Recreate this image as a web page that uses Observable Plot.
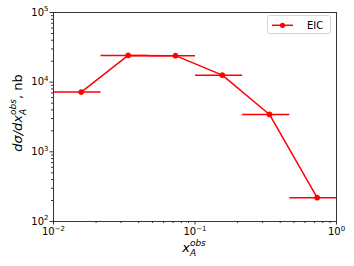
<!DOCTYPE html>
<html>
<head>
<meta charset="utf-8">
<script src="https://cdn.jsdelivr.net/npm/d3@7"></script>
<script src="https://cdn.jsdelivr.net/npm/@observablehq/plot@0.6"></script>
<style>
  body { margin: 0; background: #fff; }
  #wrap { position: relative; width: 354px; height: 266px; font-family: "DejaVu Sans", sans-serif; color: #000; }
  .lab { position: absolute; white-space: nowrap; font-size: 13px; line-height: 1; }
  .it { font-style: italic; }
  .ss { display: inline-block; vertical-align: -0.42em; font-size: 9px; line-height: 1.12; text-align: left; font-style: italic; }
  .ss span { display: block; }
  #legend { position: absolute; left: 267px; top: 15px; width: 64px; height: 19px; border: 1px solid #d4d4d4; border-radius: 3px; background: rgba(255,255,255,0.8); box-sizing: border-box; }
  #legend svg { position: absolute; left: 3px; top: 0; }
  #legend .t { position: absolute; left: 39px; top: 3.5px; font-size: 10px; }
</style>
</head>
<body>
<div id="wrap"></div>
<script>
// Data
const seriesName = "EIC";
const xCenter = [0.0157, 0.0337, 0.0728, 0.156, 0.336, 0.73];
const xLow    = [0.01, 0.0215, 0.0464, 0.1, 0.2154, 0.4642];
const xHigh   = [0.0215, 0.0464, 0.1, 0.2154, 0.4642, 1.0];
const yValue  = [7200, 24200, 24000, 12600, 3440, 220];

// Axis ticks and labels (base^exponent)
const xMajor = [0.01, 0.1, 1];
const xMajorLabels = ["10^\u22122", "10^\u22121", "10^0"];
const yMajor = [100, 1000, 10000, 100000];
const yMajorLabels = ["10^2", "10^3", "10^4", "10^5"];
const xMinor = [];
for (const d of [0.01, 0.1]) for (let k = 2; k <= 9; k++) xMinor.push(k * d);
const yMinor = [];
for (const d of [100, 1000, 10000]) for (let k = 2; k <= 9; k++) yMinor.push(k * d);

const data = xCenter.map((x, i) => ({x, lo: xLow[i], hi: xHigh[i], y: yValue[i]}));
const red = "#ff0000";

const chart = Plot.plot({
  width: 354,
  height: 266,
  marginLeft: 53,
  marginRight: 18,
  marginTop: 12,
  marginBottom: 45,
  style: {fontFamily: "DejaVu Sans, sans-serif", fontSize: "10px", color: "#000", background: "transparent"},
  x: {type: "log", domain: [0.01, 1]},
  y: {type: "log", domain: [100, 100000]},
  marks: [
    Plot.axisX({ticks: xMinor, tickSize: 2, text: null, label: null, strokeWidth: 0.8}),
    Plot.axisX({ticks: xMajor, tickSize: 3.5, tickPadding: 3, label: null, strokeWidth: 0.8,
      tickFormat: (d) => xMajorLabels[xMajor.indexOf(d)], fontSize: 10}),
    Plot.axisY({ticks: yMinor, tickSize: 2, text: null, label: null, strokeWidth: 0.8}),
    Plot.axisY({ticks: yMajor, tickSize: 3.5, tickPadding: 1.5, label: null, strokeWidth: 0.8,
      tickFormat: (d) => yMajorLabels[yMajor.indexOf(d)], fontSize: 10}),
    Plot.link(data, {x1: "lo", x2: "hi", y1: "y", y2: "y", stroke: red, strokeWidth: 1.5}),
    Plot.line(data, {x: "x", y: "y", stroke: red, strokeWidth: 1.5}),
    Plot.dot(data, {x: "x", y: "y", r: 2.6, fill: red, stroke: red, strokeWidth: 0.5}),
    Plot.frame({stroke: "#222", strokeWidth: 0.9})
  ]
});

// Turn "10^e" tick labels into base + raised exponent
d3.select(chart).selectAll("text").each(function () {
  const s = this.textContent;
  if (!s.includes("^")) return;
  const [base, exp] = s.split("^");
  const t = d3.select(this);
  t.text(null);
  t.append("tspan").text(base);
  t.append("tspan").attr("font-size", "7px").attr("dy", "-0.62em").text(exp);
});

const wrap = document.getElementById("wrap");
wrap.appendChild(chart);

// Axis labels (math style, like the reference)
const ylab = document.createElement("div");
ylab.className = "lab";
ylab.innerHTML = '<span class="it">d\u03C3/dx</span><span class="ss"><span>obs</span><span>A</span></span>, nb';
ylab.style.left = "18px";
ylab.style.top = "113px";
ylab.style.transform = "translate(-50%, -50%) rotate(-90deg)";
wrap.appendChild(ylab);

const xlab = document.createElement("div");
xlab.className = "lab";
xlab.innerHTML = '<span class="it">x</span><span class="ss"><span>obs</span><span>A</span></span>';
xlab.style.left = "194px";
xlab.style.top = "248px";
xlab.style.transform = "translate(-50%, -50%)";
wrap.appendChild(xlab);

// Legend
const leg = document.createElement("div");
leg.id = "legend";
leg.innerHTML = '<svg width="26" height="17"><line x1="1" x2="22" y1="9.3" y2="9.3" stroke="' + red + '" stroke-width="1.5"/><circle cx="11.5" cy="9.3" r="2.6" fill="' + red + '"/></svg><span class="t">' + seriesName + '</span>';
wrap.appendChild(leg);
</script>
</body>
</html>
